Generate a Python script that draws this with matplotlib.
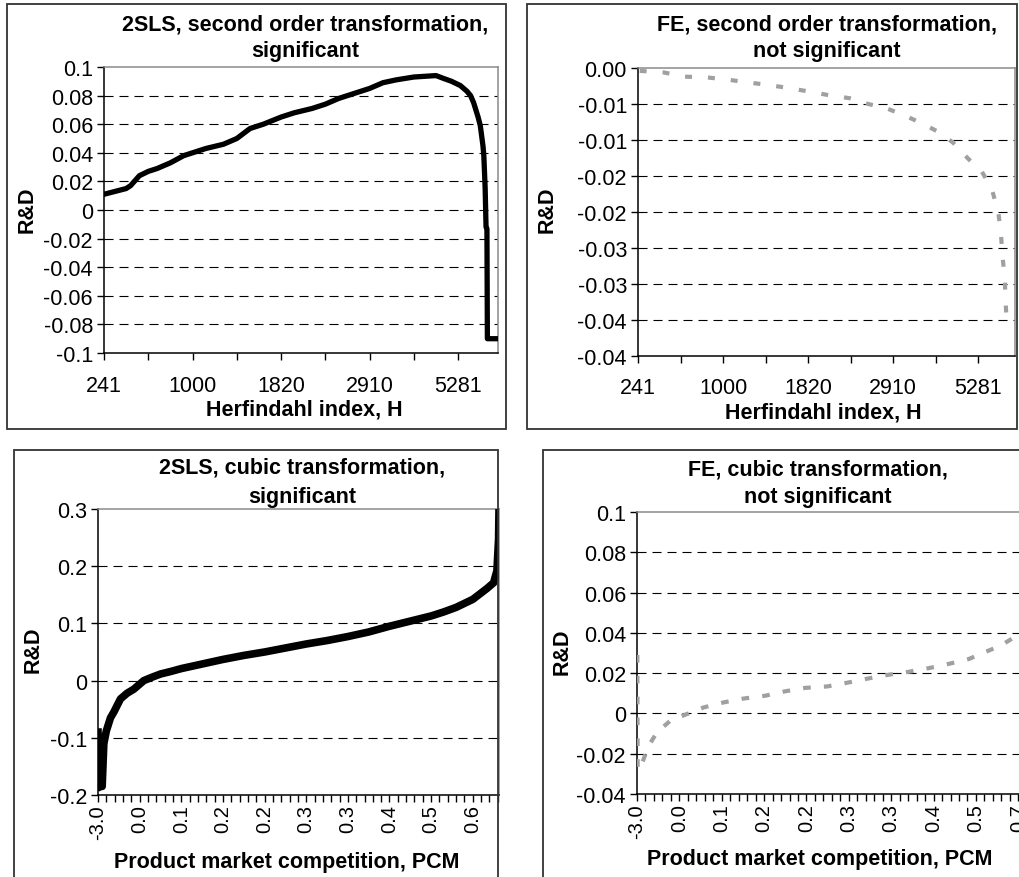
import numpy as np
import matplotlib
matplotlib.use("Agg")
import matplotlib.pyplot as plt
from matplotlib.patches import Rectangle

plt.rcParams['font.family'] = ['Liberation Sans', 'DejaVu Sans']
plt.rcParams['lines.scale_dashes'] = False

W, H = 1020, 878

# --- data (x = position along the category axis, in tick units) ---
h_2sls_pos = [0, 0.25, 0.5, 0.6, 0.8, 1.0, 1.2, 1.5, 1.8, 2.0, 2.3, 2.7, 3.0, 3.3,
              3.6, 4.0, 4.3, 4.7, 5.0, 5.3, 5.7, 6.0, 6.3, 6.6, 7.0, 7.5, 7.67, 7.85,
              8.05, 8.2, 8.28, 8.35, 8.45, 8.5, 8.56, 8.58, 8.61, 8.63, 8.65, 8.66, 8.9]
h_2sls_rd = [0.011, 0.013, 0.015, 0.017, 0.024, 0.027, 0.029, 0.033, 0.038, 0.040,
             0.043, 0.046, 0.050, 0.057, 0.060, 0.065, 0.068, 0.071, 0.074, 0.078,
             0.082, 0.085, 0.089, 0.091, 0.093, 0.094, 0.092, 0.090, 0.087, 0.083,
             0.080, 0.075, 0.065, 0.059, 0.045, 0.038, 0.015, -0.012, -0.013, -0.090, -0.090]

h_fe_pos = [0.04, 0.59, 1.10, 1.61, 2.08, 2.59, 3.10, 3.57, 4.04, 4.51, 4.98, 5.41,
            5.84, 6.27, 6.71, 7.10, 7.41, 7.76, 8.08, 8.31, 8.47, 8.53, 8.57, 8.62, 8.64, 8.67]
h_fe_rd = [-0.0004, -0.0006, -0.0012, -0.0013, -0.0016, -0.0020, -0.0024, -0.0028,
           -0.0033, -0.0038, -0.0042, -0.0050, -0.0056, -0.0066, -0.0078, -0.0090,
           -0.0104, -0.0126, -0.0144, -0.0167, -0.0201, -0.0231, -0.0263, -0.0293,
           -0.0326, -0.0358]

pcm_2sls_pos = [0.0, 0.02, 0.06, 0.10, 0.14, 0.2, 0.3, 0.38, 0.54, 0.7, 0.86, 1.1, 1.3,
                1.5, 1.75, 2.0, 2.5, 3.0, 3.5, 4.0, 4.5, 5.0, 5.5, 6.0, 6.5, 7.0, 7.5,
                8.0, 8.3, 8.6, 9.0, 9.34, 9.5, 9.58, 9.62, 9.63]
pcm_2sls_rd = [-0.09, -0.187, -0.10, -0.185, -0.11, -0.088, -0.065, -0.055, -0.032,
               -0.022, -0.015, 0.0, 0.006, 0.0115, 0.016, 0.021, 0.029, 0.037, 0.044,
               0.050, 0.057, 0.064, 0.070, 0.077, 0.085, 0.095, 0.104, 0.113, 0.120,
               0.128, 0.142, 0.161, 0.171, 0.192, 0.247, 0.30]

pcm_fe_pos = [0.008, 0.016, 0.079, 0.276, 0.472, 0.787, 1.18, 1.575, 2.05, 2.52, 3.03,
              3.50, 3.98, 4.49, 5.0, 5.47, 5.94, 6.42, 6.89, 7.40, 7.83, 8.23, 8.58, 8.98]
pcm_fe_rd = [0.029, -0.028, -0.027, -0.016, -0.0094, -0.0036, -0.0003, 0.003, 0.0055,
             0.0074, 0.0088, 0.011, 0.0127, 0.0134, 0.0154, 0.0174, 0.0192, 0.0207,
             0.0225, 0.0248, 0.027, 0.0306, 0.0336, 0.0388]

h_ticklabels = ['241', '', '1000', '', '1820', '', '2910', '', '5281']
pcm_ticklabels = ['-3.0', '0.0', '0.1', '0.2', '0.2', '0.3', '0.3', '0.4', '0.5', '0.6']
pcm_fe_ticklabels = ['-3.0', '0.0', '0.1', '0.2', '0.2', '0.3', '0.3', '0.4', '0.5', '0.7']

y1_ticks = [0.1, 0.08, 0.06, 0.04, 0.02, 0, -0.02, -0.04, -0.06, -0.08, -0.1]
y1_labels = ['0.1', '0.08', '0.06', '0.04', '0.02', '0', '-0.02', '-0.04', '-0.06', '-0.08', '-0.1']
y2_ticks = [0, -0.005, -0.01, -0.015, -0.02, -0.025, -0.03, -0.035, -0.04]
y2_labels = ['0.00', '-0.01', '-0.01', '-0.02', '-0.02', '-0.03', '-0.03', '-0.04', '-0.04']
y3_ticks = [0.3, 0.2, 0.1, 0, -0.1, -0.2]
y3_labels = ['0.3', '0.2', '0.1', '0', '-0.1', '-0.2']
y4_ticks = [0.1, 0.08, 0.06, 0.04, 0.02, 0, -0.02, -0.04]
y4_labels = ['0.1', '0.08', '0.06', '0.04', '0.02', '0', '-0.02', '-0.04']

YTICK_FS = 15.5
XTICK_FS = 15.5
ROT_FS = 14.5
LABEL_FS = 15.5
TITLE_FS = 15.5

fig = plt.figure(figsize=(W / 100, H / 100), dpi=100)


def px_axes(left, top, right, bottom):
    return fig.add_axes([left / W, 1 - bottom / H, (right - left) / W, (bottom - top) / H])


def frame(left, top, right, bottom):
    fig.patches.append(Rectangle((left / W, 1 - bottom / H), (right - left) / W,
                                 (bottom - top) / H, transform=fig.transFigure,
                                 fill=False, edgecolor='#333333', lw=1.3))


def style(ax, yticks, ylabels):
    ax.set_yticks(yticks)
    ax.set_yticklabels(ylabels, fontsize=YTICK_FS)
    lo, hi = min(yticks), max(yticks)
    ax.set_ylim(lo, hi)
    for y in yticks:
        if lo < y < hi:
            ax.axhline(y, color='black', lw=0.8, dashes=(6.5, 4.3), zorder=1)
    for s in ['top', 'right']:
        ax.spines[s].set_color('#8a8a8a')
        ax.spines[s].set_linewidth(1.1)
    for s in ['left', 'bottom']:
        ax.spines[s].set_color('black')
        ax.spines[s].set_linewidth(1.1)
    ax.tick_params(axis='both', which='both', direction='out', length=5, width=1,
                   color='black', pad=3)


# panel 1: 2SLS, second order
frame(7, 5, 506, 430)
ax1 = px_axes(104, 68, 498, 354)
ax1.plot(h_2sls_pos, h_2sls_rd, color='black', lw=3.8, zorder=3, solid_joinstyle='round')
ax1.set_xlim(0, 8.9)
ax1.set_xticks(range(len(h_ticklabels)))
ax1.set_xticklabels(h_ticklabels, fontsize=XTICK_FS)
style(ax1, y1_ticks, y1_labels)
ax1.tick_params(axis='x', pad=11)

# panel 2: FE, second order
frame(527, 5, 1017, 430)
ax2 = px_axes(638, 69, 1015, 357)
ax2.plot(h_fe_pos, h_fe_rd, color='#a0a0a0', lw=3.0, dashes=(5, 11.5), zorder=3)
ax2.set_xlim(0, 8.86)
ax2.set_xticks(range(len(h_ticklabels)))
ax2.set_xticklabels(h_ticklabels, fontsize=XTICK_FS)
style(ax2, y2_ticks, y2_labels)
ax2.tick_params(axis='x', pad=10)

# panel 3: 2SLS, cubic
frame(14, 451, 498, 900)
ax3 = px_axes(98, 510, 499, 796)
ax3.plot(pcm_2sls_pos, pcm_2sls_rd, color='black', lw=5.5, zorder=3, solid_joinstyle='round')
ax3.set_xlim(0, 9.63)
ax3.set_xticks(range(len(pcm_ticklabels)))
ax3.set_xticklabels(pcm_ticklabels, fontsize=ROT_FS, rotation=90, va='top')
ax3.set_xticks(np.arange(0, 9.63, 0.2), minor=True)
style(ax3, y3_ticks, y3_labels)
ax3.tick_params(axis='x', pad=1.5)

# panel 4: FE, cubic
frame(543, 451, 1060, 900)
ax4 = px_axes(637, 513, 1045, 795)
ax4.plot(pcm_fe_pos, pcm_fe_rd, color='#a0a0a0', lw=3.0, dashes=(5.5, 9.5), zorder=3)
ax4.set_xlim(0, 9.63)
ax4.set_xticks(range(len(pcm_fe_ticklabels)))
ax4.set_xticklabels(pcm_fe_ticklabels, fontsize=ROT_FS, rotation=90, va='top')
ax4.set_xticks(np.arange(0, 9.63, 0.2), minor=True)
style(ax4, y4_ticks, y4_labels)
ax4.tick_params(axis='x', pad=1.5)


def ftext(x, y, s, **kw):
    fig.text(x / W, 1 - y / H, s, **kw)


# titles
bold = dict(fontweight='bold')
ftext(305, 25, '2SLS, second order transformation,', ha='center', va='center', fontsize=TITLE_FS, **bold)
ftext(305, 52, 'significant', ha='center', va='center', fontsize=TITLE_FS, **bold)
ftext(827, 25, 'FE, second order transformation,', ha='center', va='center', fontsize=TITLE_FS, **bold)
ftext(827, 52, 'not significant', ha='center', va='center', fontsize=TITLE_FS, **bold)
ftext(302, 468, '2SLS, cubic transformation,', ha='center', va='center', fontsize=TITLE_FS, **bold)
ftext(302, 497, 'significant', ha='center', va='center', fontsize=TITLE_FS, **bold)
ftext(818, 470, 'FE, cubic transformation,', ha='center', va='center', fontsize=TITLE_FS, **bold)
ftext(818, 497, 'not significant', ha='center', va='center', fontsize=TITLE_FS, **bold)

# axis labels
ftext(304, 416, 'Herfindahl index, H', ha='center', va='baseline', fontsize=LABEL_FS, **bold)
ftext(823, 418, 'Herfindahl index, H', ha='center', va='baseline', fontsize=LABEL_FS, **bold)
ftext(287, 868, 'Product market competition, PCM', ha='center', va='baseline', fontsize=LABEL_FS, **bold)
ftext(647, 865, 'Product market competition, PCM', ha='left', va='baseline', fontsize=LABEL_FS, **bold)
ftext(27, 210, 'R&D', ha='center', va='center', rotation=90, fontsize=LABEL_FS, **bold)
ftext(547, 210, 'R&D', ha='center', va='center', rotation=90, fontsize=LABEL_FS, **bold)
ftext(33, 650, 'R&D', ha='center', va='center', rotation=90, fontsize=LABEL_FS, **bold)
ftext(562, 652, 'R&D', ha='center', va='center', rotation=90, fontsize=LABEL_FS, **bold)

fig.savefig('out.png', dpi=100)
